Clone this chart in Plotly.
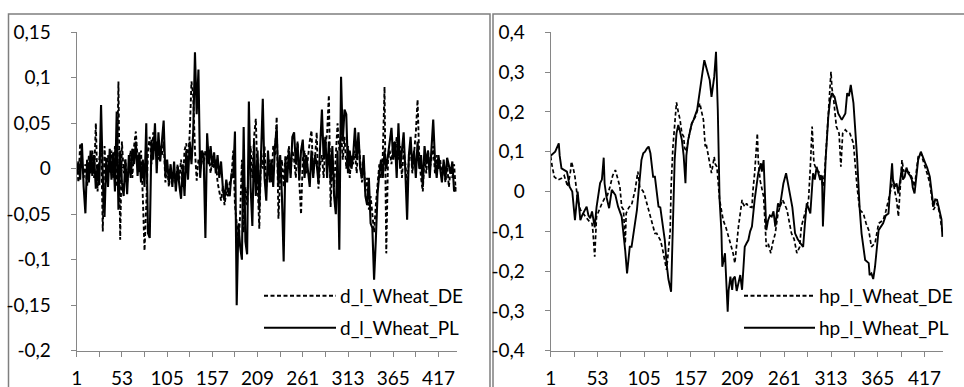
import plotly.graph_objects as go

# ---------------- data ----------------
# left panel: log-returns, sampled every 2nd observation (categories 1,3,...,437), values in thousandths
d_cat = list(range(1, 438, 2))
d_de_milli = [
    5, -15, 28, 10, -10, 5, -20, 15, -5, 20,
    -10, 50, -25, 10, 35, -69, 25, -15, 15, -5,
    20, -10, 25, -20, 96, -78, 30, -5, 10, -15,
    5, 20, -10, 25, 41, 10, -5, 20, -30, -90,
    -40, 20, 35, 5, 40, 20, 30, 10, 25, 15,
    30, -15, 5, -20, -5, -15, 0, -20, 5, -12,
    10, -20, 20, 28, 5, 40, 96, 80, 20, -13,
    10, 0, 15, 5, 20, 10, 15, -5, 12, 0,
    10, -15, -25, -35, -20, -40, -25, -30, -15, -10,
    20, -40, -60, -85, -50, 10, -70, -20, -40, 10,
    25, -10, 35, 55, -15, -66, 20, 0, 25, -20,
    -5, 10, -15, 25, 15, 57, -55, -10, 10, -20,
    15, 5, 25, -5, 20, 10, -10, 30, -15, -50,
    10, 20, -5, 15, 30, 42, -5, 10, 40, -22,
    5, 15, -10, 25, 40, 81, -42, 10, -20, 15,
    50, 20, 40, 10, 35, 0, 25, -10, 15, 5,
    20, -5, 30, 10, -15, 5, -25, -10, -45, -30,
    -50, -70, -40, -20, 5, -10, 15, 90, -93, 10,
    20, 5, 30, 15, 35, 10, 25, -10, 20, 5,
    -20, 10, 25, -5, 20, 40, 76, 10, -10, -25,
    15, -5, 20, 0, 10, 25, -5, 15, 0, 10,
    -10, 5, -15, 5, -20, 0, -10, 5, -25,
]
d_pl_milli = [
    -5, 8, -12, 28, -20, -49, 10, -15, 20, -8,
    15, -22, 5, -18, 70, -10, -53, 12, -20, 22,
    -12, 18, -25, 63, -45, 20, -15, -30, 10, -28,
    15, -10, 22, 5, 30, -8, 18, -15, 10, -20,
    50, -71, -76, 32, 10, 50, -5, 40, 8, 35,
    53, -8, 10, -15, 5, -20, 8, -25, 2, -18,
    -33, 5, -30, 20, -12, 30, 5, 40, 128, 60,
    109, -10, 20, 15, -76, 39, 5, 25, 2, 18,
    -5, 15, -10, 8, -20, -35, -12, -25, -30, -5,
    -10, 41, -150, -60, -86, -100, 46, -80, -94, 74,
    -20, -63, 30, -30, 20, -45, 10, 77, -10, -35,
    20, -15, 10, -20, 25, 45, -20, 15, -30, -102,
    10, -15, 20, -10, 35, 40, 5, 28, -12, 20,
    32, -10, 15, -5, -20, 20, -10, 15, 5, -15,
    20, 65, 10, 35, -10, 30, -15, 25, -30, -50,
    20, -89, 101, 30, 65, 60, -5, 20, 0, 15,
    45, 10, 40, 0, -10, 15, -30, -40, -10, -60,
    -65, -122, -78, -27, -5, 10, -10, 20, 0, 15,
    30, 45, 10, 30, -10, 50, 0, 25, 40, -5,
    -56, 15, 35, 0, 20, -10, 30, 0, 15, -20,
    25, 5, 20, -10, 30, 54, 10, -10, 15, 0,
    -15, 10, -12, 12, 5, -5, 8, -25, -20,
]
d_de = [v / 1000 for v in d_de_milli]
d_pl = [v / 1000 for v in d_pl_milli]

# right panel: HP-filtered series, read at turning points (category, value)
hp_de_cat = [1, 2, 5, 9, 13, 16, 20, 23, 24, 26, 28, 31, 34, 39, 41, 44, 47, 48, 50, 52,
             56, 58, 61, 64, 67, 70, 73, 75, 78, 80, 82, 84, 85, 88, 91, 95, 98, 100, 104, 106,
             111, 117, 119, 123, 125, 128, 130, 134, 135, 137, 139, 141, 143, 145, 147, 149, 150, 152, 154, 156,
             158, 162, 164, 167, 169, 171, 173, 174, 176, 178, 180, 183, 184, 186, 189, 193, 196, 199, 201, 204,
             206, 208, 210, 214, 215, 217, 219, 221, 225, 226, 228, 231, 232, 234, 238, 241, 243, 246, 248, 251,
             254, 256, 259, 261, 264, 266, 269, 272, 275, 278, 280, 284, 288, 290, 292, 294, 297, 301, 304, 306,
             308, 311, 313, 314, 316, 319, 322, 324, 326, 329, 331, 334, 338, 342, 345, 349, 352, 355, 358, 362,
             366, 371, 374, 377, 380, 382, 384, 386, 388, 390, 392, 394, 395, 398, 401, 404, 406, 408, 410, 413,
             418, 420, 423, 427, 431, 434, 437]
hp_de = [0.088, 0.071, 0.037, 0.029, 0.033, 0.040, 0.012, 0.050, 0.075, 0.060, 0.037, -0.020, -0.046, -0.063, -0.067, -0.075, -0.080, -0.100, -0.164, -0.063,
         -0.038, -0.030, -0.017, -0.010, 0.012, 0.040, 0.054, 0.035, 0.012, -0.038, -0.046, -0.130, -0.055, -0.040, -0.034, 0.004, 0.050, 0.012, 0.000, -0.013,
         -0.055, -0.105, -0.105, -0.122, -0.139, -0.180, -0.197, -0.100, 0.010, 0.110, 0.180, 0.224, 0.200, 0.180, 0.146, 0.138, 0.110, 0.100, 0.130, 0.155,
         0.170, 0.188, 0.200, 0.222, 0.200, 0.180, 0.113, 0.120, 0.096, 0.070, 0.046, 0.087, 0.070, 0.062, -0.021, -0.072, -0.090, -0.114, -0.130, -0.155,
         -0.180, -0.130, -0.088, -0.021, -0.030, -0.038, -0.030, -0.038, -0.040, 0.000, 0.046, 0.146, 0.080, 0.029, -0.013, -0.139, -0.130, -0.155, -0.130, -0.105,
         -0.055, -0.040, -0.021, -0.030, -0.046, -0.070, -0.105, -0.120, -0.155, -0.140, -0.088, -0.055, -0.021, 0.062, 0.163, 0.071, 0.054, 0.046, 0.012, 0.050,
         0.121, 0.230, 0.301, 0.260, 0.230, 0.163, 0.146, 0.062, 0.146, 0.155, 0.150, 0.146, 0.121, 0.012, -0.046, -0.055, -0.080, -0.097, -0.139, -0.130,
         -0.080, -0.072, -0.050, -0.021, 0.010, 0.029, 0.000, -0.021, -0.063, 0.020, 0.079, 0.050, 0.054, 0.050, 0.046, 0.030, 0.012, 0.050, 0.087, 0.096,
         0.062, 0.045, 0.021, -0.046, -0.030, -0.055, -0.105]

hp_pl_cat = [1, 2, 6, 10, 11, 13, 16, 19, 20, 22, 25, 28, 31, 34, 36, 38, 41, 43, 45, 47,
             50, 52, 54, 56, 58, 60, 61, 63, 66, 69, 73, 76, 80, 83, 84, 86, 88, 89, 91, 93,
             95, 97, 100, 102, 104, 106, 108, 110, 112, 115, 117, 121, 123, 126, 128, 130, 132, 135, 136, 138,
             139, 141, 143, 145, 147, 149, 151, 152, 154, 158, 160, 164, 167, 170, 172, 175, 178, 180, 183, 185,
             187, 189, 191, 192, 195, 198, 199, 201, 203, 204, 206, 208, 210, 212, 214, 215, 217, 219, 221, 223,
             225, 228, 232, 235, 236, 238, 239, 241, 243, 245, 247, 249, 251, 254, 256, 258, 260, 263, 265, 267,
             270, 273, 276, 279, 282, 284, 286, 290, 293, 295, 297, 301, 303, 304, 306, 307, 310, 312, 314, 317,
             321, 325, 329, 331, 333, 335, 338, 342, 345, 347, 351, 355, 356, 358, 360, 362, 366, 368, 371, 374,
             377, 378, 381, 382, 384, 386, 388, 392, 393, 395, 397, 399, 401, 403, 404, 406, 408, 410, 413, 415,
             418, 420, 423, 427, 429, 431, 432, 434, 436, 437]
hp_pl = [0.090, 0.092, 0.100, 0.121, 0.090, 0.058, 0.055, 0.050, 0.040, 0.012, 0.000, -0.072, 0.000, -0.072, -0.060, -0.050, -0.038, -0.060, -0.067, -0.050,
         -0.090, -0.040, -0.013, 0.021, 0.030, 0.085, 0.020, -0.013, -0.042, 0.004, -0.009, -0.038, -0.063, -0.122, -0.150, -0.206, -0.160, -0.139, -0.139, -0.105,
         -0.080, -0.046, 0.029, 0.079, 0.096, 0.100, 0.108, 0.113, 0.096, 0.037, 0.037, -0.038, -0.040, -0.097, -0.122, -0.180, -0.220, -0.252, -0.150, -0.021,
         0.080, 0.146, 0.167, 0.150, 0.129, 0.090, 0.021, 0.090, 0.129, 0.171, 0.180, 0.205, 0.247, 0.300, 0.330, 0.305, 0.280, 0.238, 0.288, 0.351,
         0.205, -0.021, -0.100, -0.189, -0.155, -0.302, -0.250, -0.214, -0.247, -0.220, -0.214, -0.250, -0.231, -0.210, -0.247, -0.206, -0.139, -0.130, -0.122, -0.100,
         -0.088, -0.021, 0.046, 0.071, 0.050, 0.079, 0.000, -0.097, -0.072, -0.060, -0.063, -0.050, -0.088, -0.030, -0.040, -0.013, 0.020, 0.046, 0.020, 0.000,
         -0.040, -0.105, -0.120, -0.130, -0.139, -0.080, -0.030, -0.055, 0.046, 0.030, 0.062, 0.029, 0.040, -0.088, 0.020, 0.079, 0.188, 0.230, 0.247, 0.238,
         0.196, 0.180, 0.196, 0.247, 0.240, 0.268, 0.222, 0.087, -0.046, -0.105, -0.172, -0.180, -0.210, -0.206, -0.220, -0.189, -0.097, -0.090, -0.080, -0.060,
         -0.055, -0.020, 0.071, 0.030, 0.012, 0.020, -0.005, 0.062, 0.030, 0.037, 0.060, 0.046, 0.040, 0.029, 0.010, -0.005, 0.040, 0.079, 0.100, 0.090,
         0.071, 0.060, 0.037, -0.038, -0.020, -0.021, -0.030, -0.055, -0.070, -0.114]

n_obs = 438
x_tick_vals = [1, 53, 105, 157, 209, 261, 313, 365, 417]
x_tick_labels = ["1", "53", "105", "157", "209", "261", "313", "365", "417"]
x_minor_vals = [27, 79, 131, 183, 235, 287, 339, 391]

y1_vals = [-0.2, -0.15, -0.1, -0.05, 0, 0.05, 0.1, 0.15]
y1_labels = ["-0,2", "-0,15", "-0,1", "-0,05", "0", "0,05", "0,1", "0,15"]
y2_vals = [-0.4, -0.3, -0.2, -0.1, 0, 0.1, 0.2, 0.3, 0.4]
y2_labels = ["-0,4", "-0,3", "-0,2", "-0,1", "0", "0,1", "0,2", "0,3", "0,4"]

legend_left = ["d_l_Wheat_DE", "d_l_Wheat_PL"]
legend_right = ["hp_l_Wheat_DE", "hp_l_Wheat_PL"]

# ---------------- figure ----------------
W, H = 964, 387
FONT = "Lato"
FS = 19
AX = "#868686"
DASH = "4px,2.5px"

def px(x):
    return x / W

def py(y):
    return (H - y) / H

fig = go.Figure()
fig.add_trace(go.Scatter(x=d_cat, y=d_de, mode="lines", line=dict(color="black", width=1.9, dash=DASH),
                         xaxis="x", yaxis="y", name=legend_left[0]))
fig.add_trace(go.Scatter(x=d_cat, y=d_pl, mode="lines", line=dict(color="black", width=2.1),
                         xaxis="x", yaxis="y", name=legend_left[1]))
fig.add_trace(go.Scatter(x=hp_de_cat, y=hp_de, mode="lines", line=dict(color="black", width=1.7, dash=DASH),
                         xaxis="x2", yaxis="y2", name=legend_right[0]))
fig.add_trace(go.Scatter(x=hp_pl_cat, y=hp_pl, mode="lines", line=dict(color="black", width=1.9),
                         xaxis="x2", yaxis="y2", name=legend_right[1]))

ydom = [py(350.7), py(32.3)]
common_x = dict(range=[1, n_obs], showgrid=False, zeroline=False, showline=True, linecolor=AX, linewidth=1,
                ticks="outside", ticklen=5, tickcolor=AX, tickmode="array", tickvals=x_tick_vals,
                ticktext=x_tick_labels, ticklabelstandoff=5, automargin=False,
                minor=dict(tickmode="array", tickvals=x_minor_vals, ticks="outside", ticklen=5, tickcolor=AX),
                tickfont=dict(family=FONT, size=FS, color="black"))
common_y = dict(showgrid=False, zeroline=False, showline=True, linecolor=AX, linewidth=1, automargin=False,
                ticks="outside", ticklen=5, tickcolor=AX, tickmode="array", ticklabelstandoff=16,
                tickfont=dict(family=FONT, size=FS, color="black"), domain=ydom)

fig.update_layout(
    width=W, height=H, margin=dict(l=0, r=0, t=0, b=0, pad=0, autoexpand=False),
    paper_bgcolor="white", plot_bgcolor="white", showlegend=False,
    xaxis=dict(domain=[px(76.7), px(456.7)], anchor="y", **common_x),
    yaxis=dict(range=[-0.2, 0.15], tickvals=y1_vals, ticktext=y1_labels, anchor="x", **common_y),
    xaxis2=dict(domain=[px(550.7), px(943.3)], anchor="y2", **common_x),
    yaxis2=dict(range=[-0.4, 0.4], tickvals=y2_vals, ticktext=y2_labels, anchor="x2", **common_y),
)

shapes = [
    dict(type="rect", xref="paper", yref="paper", x0=px(8.5), x1=px(490), y0=-0.2, y1=py(14),
         line=dict(color="#7f7f7f", width=1.5), fillcolor="rgba(0,0,0,0)", layer="below"),
    dict(type="rect", xref="paper", yref="paper", x0=px(493), x1=1.2, y0=-0.2, y1=py(14),
         line=dict(color="#7f7f7f", width=1.5), fillcolor="rgba(0,0,0,0)", layer="below"),
]
annotations = []
legend_spec = [
    (264, 336, 338, legend_left),
    (744, 815, 817, legend_right),
]
for x0, x1, xt, names in legend_spec:
    for i, (yy, dash) in enumerate([(295.7, DASH), (327.7, "solid")]):
        shapes.append(dict(type="line", xref="paper", yref="paper", x0=px(x0), x1=px(x1), y0=py(yy), y1=py(yy),
                           line=dict(color="black", width=1.9, dash=dash)))
        annotations.append(dict(x=px(xt), y=py(yy), xref="paper", yref="paper", text=names[i], showarrow=False,
                                xanchor="left", yanchor="middle", font=dict(family=FONT, size=FS, color="black")))
fig.update_layout(shapes=shapes, annotations=annotations)

fig.write_html("out.html", config={"displayModeBar": False},
               post_script="document.body.style.margin='0';document.body.style.overflow='hidden';")
